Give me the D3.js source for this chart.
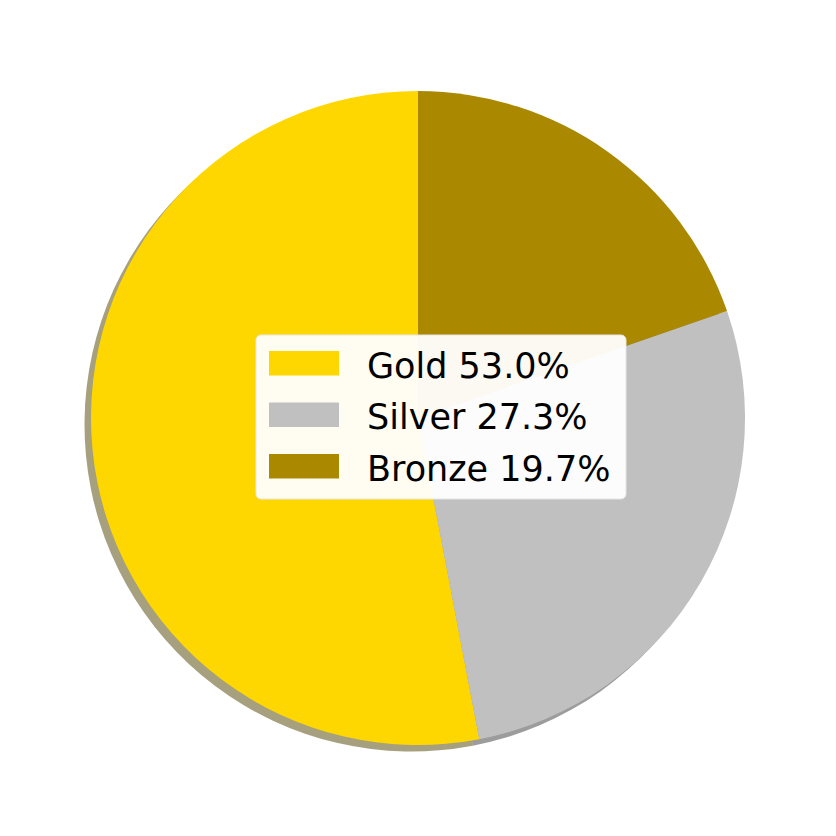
<!DOCTYPE html>
<html>
<head>
  <meta charset="utf-8">
  <title>Medals</title>
  <style>
    body { margin: 0; background: #fff; }
    text { font-family: "DejaVu Sans", sans-serif; }
  </style>
</head>
<body>
  <svg width="836" height="836"></svg>
  <script src="https://cdn.jsdelivr.net/npm/d3@7"></script>
  <script>
    var categories = ["Gold", "Silver", "Bronze"];
    var shares = [53.0, 27.3, 19.7];
    var colors = ["#ffd700", "#c0c0c0", "#aa8800"];

    var data = categories.map(function(c, i) {
      return { name: c, value: shares[i], color: colors[i] };
    });

    var svg = d3.select("svg"),
      cx = 418, cy = 418, radius = 327;

    // counterclockwise from the top, like matplotlib startangle=90
    var pie = d3.pie()
      .sort(null)
      .value(function(d) { return d.value; })
      .startAngle(0)
      .endAngle(-2 * Math.PI);

    var arc = d3.arc().innerRadius(0).outerRadius(radius);
    var arcs = pie(data);

    // shadow: darker colour, half transparent, shifted down-left
    var shadow = svg.append("g")
      .attr("transform", "translate(" + (cx - 6.5) + "," + (cy + 6.5) + ")");
    shadow.selectAll("path")
      .data(arcs)
      .enter().append("path")
      .attr("d", arc)
      .attr("fill", function(d) {
        var c = d3.rgb(d.data.color);
        return d3.rgb(c.r * 0.3, c.g * 0.3, c.b * 0.3);
      })
      .attr("fill-opacity", 0.5);

    var g = svg.append("g")
      .attr("transform", "translate(" + cx + "," + cy + ")");
    g.selectAll("path")
      .data(arcs)
      .enter().append("path")
      .attr("d", arc)
      .attr("fill", function(d) { return d.data.color; });

    // legend
    var lx = 256, ly = 335, lw = 370, lh = 164;
    var legend = svg.append("g");
    legend.append("rect")
      .attr("x", lx).attr("y", ly)
      .attr("width", lw).attr("height", lh)
      .attr("rx", 5)
      .attr("fill", "#fff")
      .attr("fill-opacity", 0.95)
      .attr("stroke", "#e6e6e6")
      .attr("stroke-width", 1);

    var rows = legend.selectAll(".item")
      .data(data)
      .enter().append("g")
      .attr("class", "item")
      .attr("transform", function(d, i) {
        return "translate(" + lx + "," + (ly + 16 + i * 51.5) + ")";
      });
    rows.append("rect")
      .attr("x", 13).attr("y", 0)
      .attr("width", 70).attr("height", 24.5)
      .attr("fill", function(d) { return d.color; });
    rows.append("text")
      .attr("x", 111).attr("y", 26.5)
      .attr("font-size", 35)
      .attr("fill", "#000")
      .text(function(d) { return d.name + " " + d.value.toFixed(1) + "%"; });
  </script>
</body>
</html>
